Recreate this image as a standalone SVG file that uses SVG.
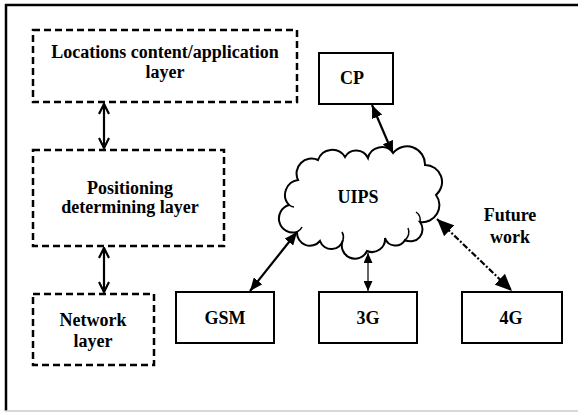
<svg xmlns="http://www.w3.org/2000/svg" width="578" height="412" viewBox="0 0 578 412">
<style>
.t{font-size:18px;font-weight:bold;fill:#000;text-anchor:middle}
.dash{fill:#fff;stroke:#000;stroke-width:2.5;stroke-dasharray:7 4}
.box{fill:#fff;stroke:#000;stroke-width:2}
.ln{fill:none;stroke:#000;stroke-width:2.2}
</style>
<defs>
<marker id="chev" viewBox="0 0 12 12" refX="11" refY="6" markerWidth="12" markerHeight="12" markerUnits="userSpaceOnUse" orient="auto-start-reverse">
<path d="M1,1 L11,6 L1,11" fill="none" stroke="#000" stroke-width="2.2"/>
</marker>
<marker id="tri" viewBox="0 0 13 11" refX="13" refY="5.5" markerWidth="13" markerHeight="11" markerUnits="userSpaceOnUse" orient="auto-start-reverse">
<path d="M0,0 L13,5.5 L0,11 Z" fill="#000"/>
</marker>
<marker id="tris" viewBox="0 0 10 9" refX="10" refY="4.5" markerWidth="10" markerHeight="9" markerUnits="userSpaceOnUse" orient="auto-start-reverse">
<path d="M0,0 L10,4.5 L0,9 Z" fill="#000"/>
</marker>
<marker id="trib" viewBox="0 0 17 15" refX="17" refY="7.5" markerWidth="17" markerHeight="15" markerUnits="userSpaceOnUse" orient="auto-start-reverse">
<path d="M0,0 L17,7.5 L0,15 Z" fill="#000"/>
</marker>
</defs>
<g id="frame">
<line x1="6" y1="4" x2="6" y2="411" stroke="#000" stroke-width="2.5"/>
<line x1="5" y1="5" x2="578" y2="5" stroke="#000" stroke-width="2.5"/>
<line x1="5" y1="411" x2="578" y2="411" stroke="#ccc" stroke-width="1.5"/>
</g>
<g id="connectors">
<line class="ln" x1="104" y1="104" x2="104" y2="148" marker-start="url(#chev)" marker-end="url(#chev)"/>
<line class="ln" x1="104" y1="248" x2="104" y2="292" marker-start="url(#chev)" marker-end="url(#chev)"/>
<line class="ln" x1="372" y1="105" x2="393" y2="154" marker-start="url(#tri)" marker-end="url(#tri)"/>
<line class="ln" x1="297" y1="232" x2="250" y2="291" marker-start="url(#tri)" marker-end="url(#tri)"/>
<line x1="368" y1="253" x2="368" y2="291" stroke="#000" stroke-width="1.2" marker-start="url(#tris)" marker-end="url(#tris)"/>
<line x1="437" y1="219" x2="512" y2="291" stroke="#000" stroke-width="2.2" stroke-dasharray="6 2 2 2" marker-start="url(#trib)" marker-end="url(#trib)"/>
</g>
<g font-family="Liberation Serif, DejaVu Serif, serif">
<g id="locations">
<rect class="dash" x="33" y="30" width="264" height="72"/>
<text class="t" x="165" y="58">Locations content/application</text>
<text class="t" x="165" y="78">layer</text>
</g>
<g id="positioning">
<rect class="dash" x="33" y="150" width="191" height="96"/>
<text class="t" x="130" y="194">Positioning</text>
<text class="t" x="130" y="213">determining layer</text>
</g>
<g id="network">
<rect class="dash" x="33" y="294" width="121" height="71"/>
<text class="t" x="93" y="326">Network</text>
<text class="t" x="93" y="347">layer</text>
</g>
<g id="cp">
<rect class="box" x="319" y="53" width="74" height="51"/>
<text class="t" x="352" y="84">CP</text>
</g>
<g id="uips">
<path fill="#fff" stroke="#000" stroke-width="2" d="M297,232 A14,14 0 0 1 289,205 A15,15 0 0 1 298,180 A15,15 0 0 1 318,160 A15,15 0 0 1 345,157 A13,13 0 0 1 368,158 A14,14 0 0 1 393,153 A18,18 0 0 1 425,165 A17,17 0 0 1 436,195 A17,17 0 0 1 420,222 A12,12 0 0 1 405,240 A11,11 0 0 1 385,238 A13,13 0 0 1 367,251 A13,13 0 0 1 343,240 A12,12 0 0 1 320,241 A13,13 0 0 1 297,232 Z"/>
<path fill="none" stroke="#000" stroke-width="1.5" d="M420,222 A10,10 0 0 0 416,212 M405,240 A10,10 0 0 0 408,228 M343,240 A10,10 0 0 0 342,232 M297,232 A10,10 0 0 0 302,227 M289,205 A10,10 0 0 0 294,207"/>
<text class="t" x="358" y="203">UIPS</text>
</g>
<g id="gsm">
<rect class="box" x="176" y="292" width="98" height="51"/>
<text class="t" x="225" y="324">GSM</text>
</g>
<g id="g3">
<rect class="box" x="319" y="292" width="98" height="51"/>
<text class="t" x="368" y="324">3G</text>
</g>
<g id="g4">
<rect class="box" x="462" y="292" width="100" height="51"/>
<text class="t" x="511" y="324">4G</text>
</g>
<g id="future">
<text class="t" x="510" y="221">Future</text>
<text class="t" x="510" y="243">work</text>
</g>
</g>
</svg>
